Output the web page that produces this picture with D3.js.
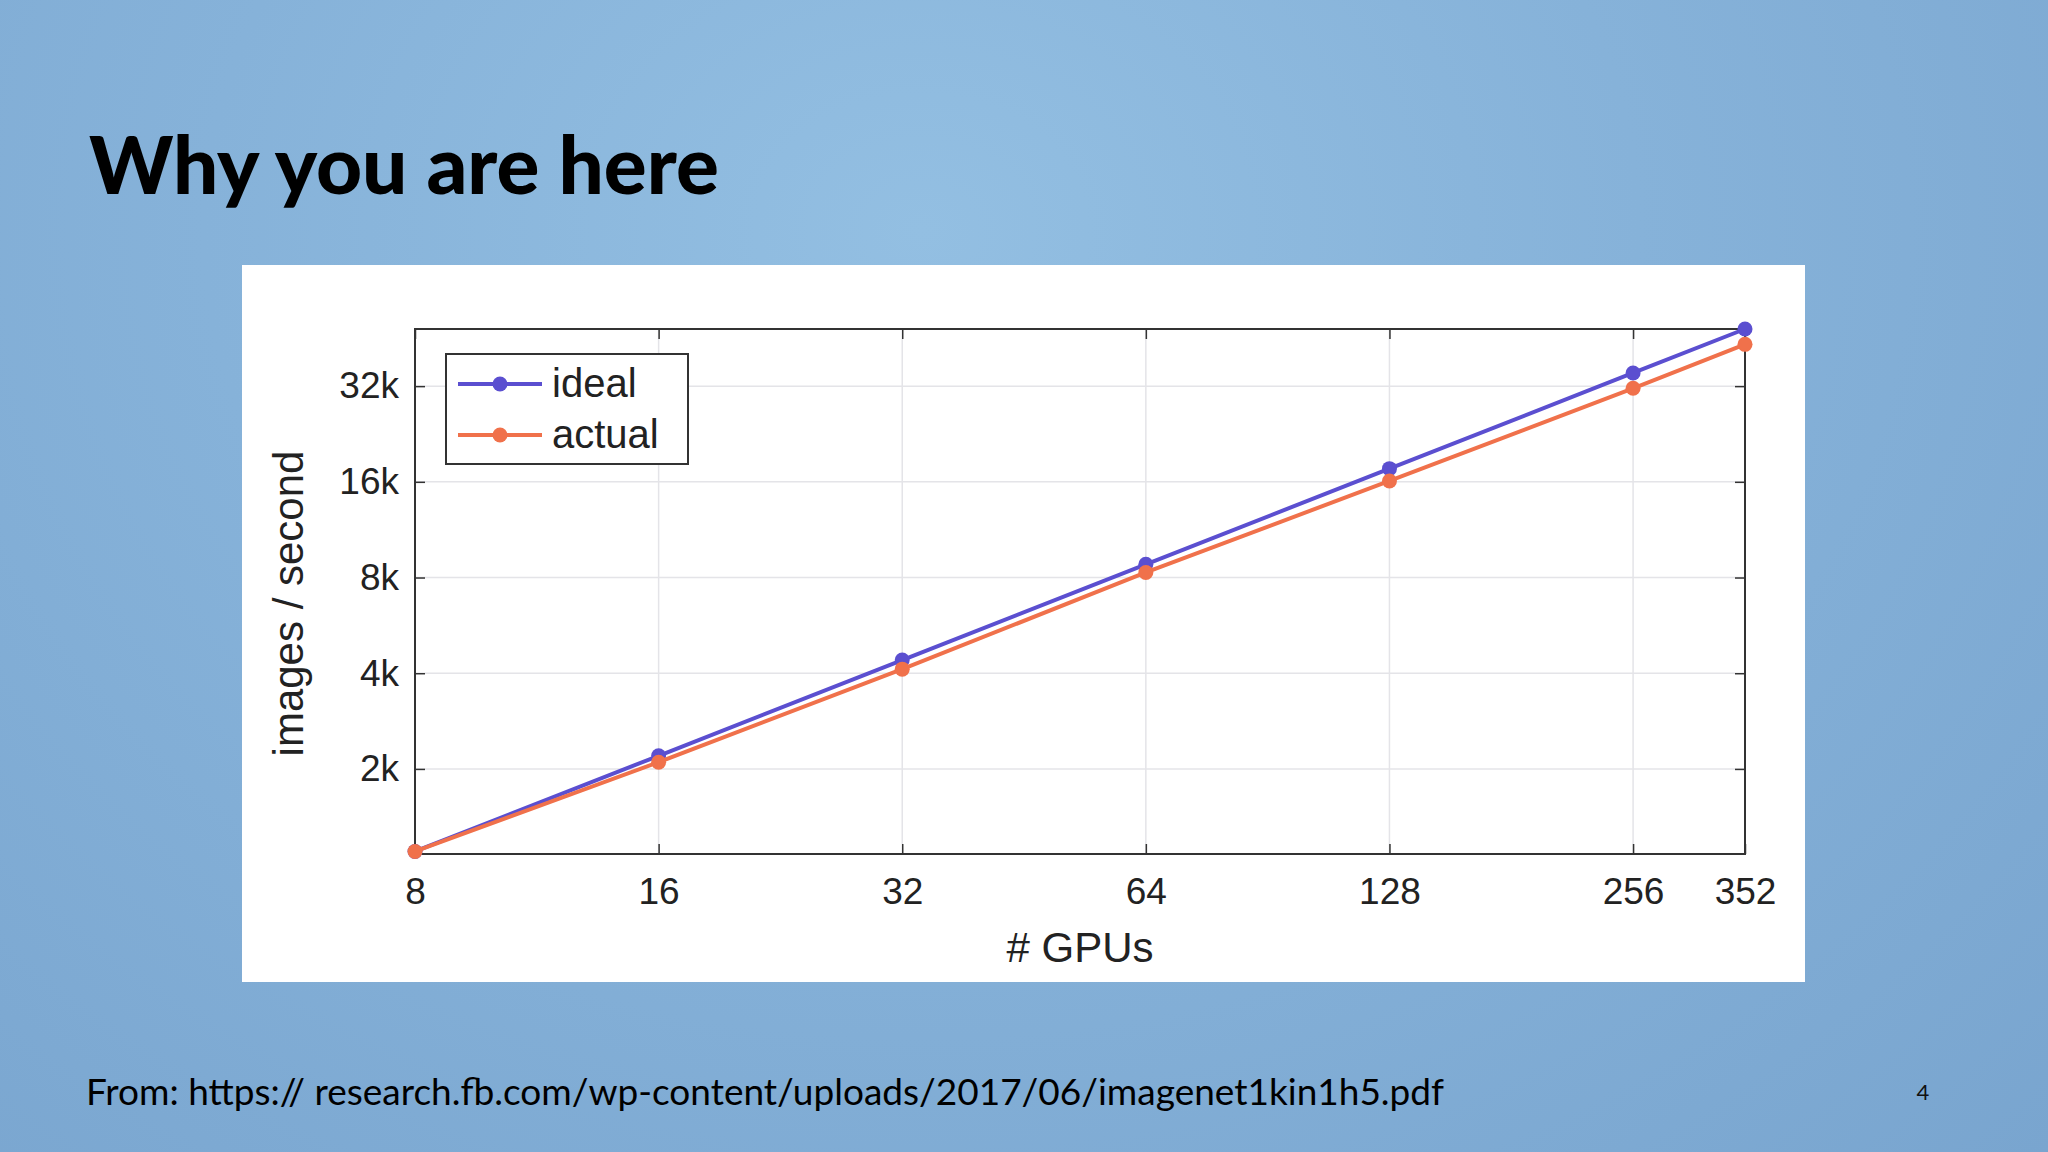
<!DOCTYPE html>
<html>
<head>
<meta charset="utf-8">
<script src="https://cdn.jsdelivr.net/npm/d3@7"></script>
<style>
  html, body { margin: 0; padding: 0; }
  body {
    width: 2048px; height: 1152px; overflow: hidden;
    background: radial-gradient(ellipse at 45% 20%, #93bfe2 0%, #86b2d9 45%, #79a5cf 100%);
  }
</style>
</head>
<body>
<svg id="slide" width="2048" height="1152"></svg>
<script>
// data
const gpus = [8, 16, 32, 64, 128, 256, 352];
const ideal = [1100, 2200, 4400, 8800, 17600, 35200, 48400];
const actual = [1100, 2100, 4120, 8300, 16100, 31500, 43300];
const yTicks = [2000, 4000, 8000, 16000, 32000];
const yTickLabels = ["2k", "4k", "8k", "16k", "32k"];

const svg = d3.select("#slide");

// title
svg.append("text")
  .attr("x", 89).attr("y", 194)
  .attr("font-family", "Lato, 'Open Sans', sans-serif")
  .attr("font-weight", 900)
  .attr("font-size", 80)
  .attr("fill", "#000")
  .text("Why you are here");

// white panel
svg.append("rect")
  .attr("x", 242).attr("y", 265)
  .attr("width", 1563).attr("height", 717)
  .attr("fill", "#fff");

const pLeft = 415, pRight = 1745, pTop = 329, pBottom = 854;

const x = d3.scaleLog().base(2).domain([8, 352]).range([pLeft, pRight]);
const y = d3.scaleLog().base(2).domain([1080, 48400]).range([pBottom, pTop]);

const font = "'Liberation Sans', Arial, sans-serif";
const g = svg.append("g");

// grid
g.selectAll(".vgrid").data(gpus.slice(1, -1)).enter()
  .append("line")
  .attr("x1", d => x(d)).attr("x2", d => x(d))
  .attr("y1", pTop).attr("y2", pBottom)
  .attr("stroke", "#e4e4e8").attr("stroke-width", 1.5);
g.selectAll(".hgrid").data(yTicks).enter()
  .append("line")
  .attr("x1", pLeft).attr("x2", pRight)
  .attr("y1", d => y(d)).attr("y2", d => y(d))
  .attr("stroke", "#e4e4e8").attr("stroke-width", 1.5);

// axes (ticks pointing inward, mirrored on top/right)
const tick = 10;
const styleAxis = sel => {
  sel.select(".domain").remove();
  sel.selectAll("line").attr("stroke", "#333").attr("stroke-width", 1.5);
  sel.selectAll("text").attr("font-family", font).attr("font-size", 37).attr("fill", "#222");
};
g.append("g").attr("transform", `translate(0,${pBottom})`)
  .call(d3.axisBottom(x).tickValues(gpus).tickFormat(d => d).tickSizeInner(-tick).tickPadding(24))
  .call(styleAxis);
g.append("g").attr("transform", `translate(0,${pTop})`)
  .call(d3.axisTop(x).tickValues(gpus).tickFormat("").tickSizeInner(-tick))
  .call(styleAxis);
g.append("g").attr("transform", `translate(${pLeft},0)`)
  .call(d3.axisLeft(y).tickValues(yTicks).tickFormat((d, i) => yTickLabels[i]).tickSizeInner(-tick).tickPadding(16))
  .call(styleAxis);
g.append("g").attr("transform", `translate(${pRight},0)`)
  .call(d3.axisRight(y).tickValues(yTicks).tickFormat("").tickSizeInner(-tick))
  .call(styleAxis);

g.append("rect")
  .attr("x", pLeft).attr("y", pTop)
  .attr("width", pRight - pLeft).attr("height", pBottom - pTop)
  .attr("fill", "none").attr("stroke", "#333").attr("stroke-width", 2);

// axis titles
g.append("text")
  .attr("x", (pLeft + pRight) / 2).attr("y", 962)
  .attr("text-anchor", "middle")
  .attr("font-family", font).attr("font-size", 42).attr("fill", "#222")
  .text("# GPUs");
g.append("text")
  .attr("transform", `translate(303,${(pTop + pBottom) / 2 + 12}) rotate(-90)`)
  .attr("text-anchor", "middle")
  .attr("font-family", font).attr("font-size", 42).attr("fill", "#222")
  .text("images / second");

// series
const series = [
  { name: "ideal", values: ideal, color: "#5b4fd0" },
  { name: "actual", values: actual, color: "#f0714b" }
];
const line = d3.line().x((d, i) => x(gpus[i])).y(d => y(d));
series.forEach(s => {
  g.append("path").datum(s.values)
    .attr("d", line)
    .attr("fill", "none").attr("stroke", s.color).attr("stroke-width", 4);
  g.selectAll(null).data(s.values).enter()
    .append("circle")
    .attr("cx", (d, i) => x(gpus[i])).attr("cy", d => y(d))
    .attr("r", 7.5).attr("fill", s.color);
});

// legend
const lg = g.append("g").attr("transform", "translate(446,354)");
lg.append("rect").attr("width", 242).attr("height", 110)
  .attr("fill", "#fff").attr("stroke", "#333").attr("stroke-width", 2);
series.forEach((s, i) => {
  const ly = 30 + i * 51;
  lg.append("line").attr("x1", 12).attr("x2", 96).attr("y1", ly).attr("y2", ly)
    .attr("stroke", s.color).attr("stroke-width", 4);
  lg.append("circle").attr("cx", 54).attr("cy", ly).attr("r", 7.5).attr("fill", s.color);
  lg.append("text").attr("x", 106).attr("y", ly + 13)
    .attr("font-family", font).attr("font-size", 40).attr("fill", "#222")
    .text(s.name);
});

// footer
svg.append("text")
  .attr("x", 86).attr("y", 1105)
  .attr("font-family", "Lato, 'Open Sans', sans-serif")
  .attr("font-size", 37).attr("fill", "#000")
  .text("From: https:// research.fb.com/wp-content/uploads/2017/06/imagenet1kin1h5.pdf");
svg.append("text")
  .attr("x", 1923).attr("y", 1100)
  .attr("text-anchor", "middle")
  .attr("font-family", "Lato, 'Open Sans', sans-serif")
  .attr("font-size", 22).attr("fill", "#111")
  .text("4");
</script>
</body>
</html>
